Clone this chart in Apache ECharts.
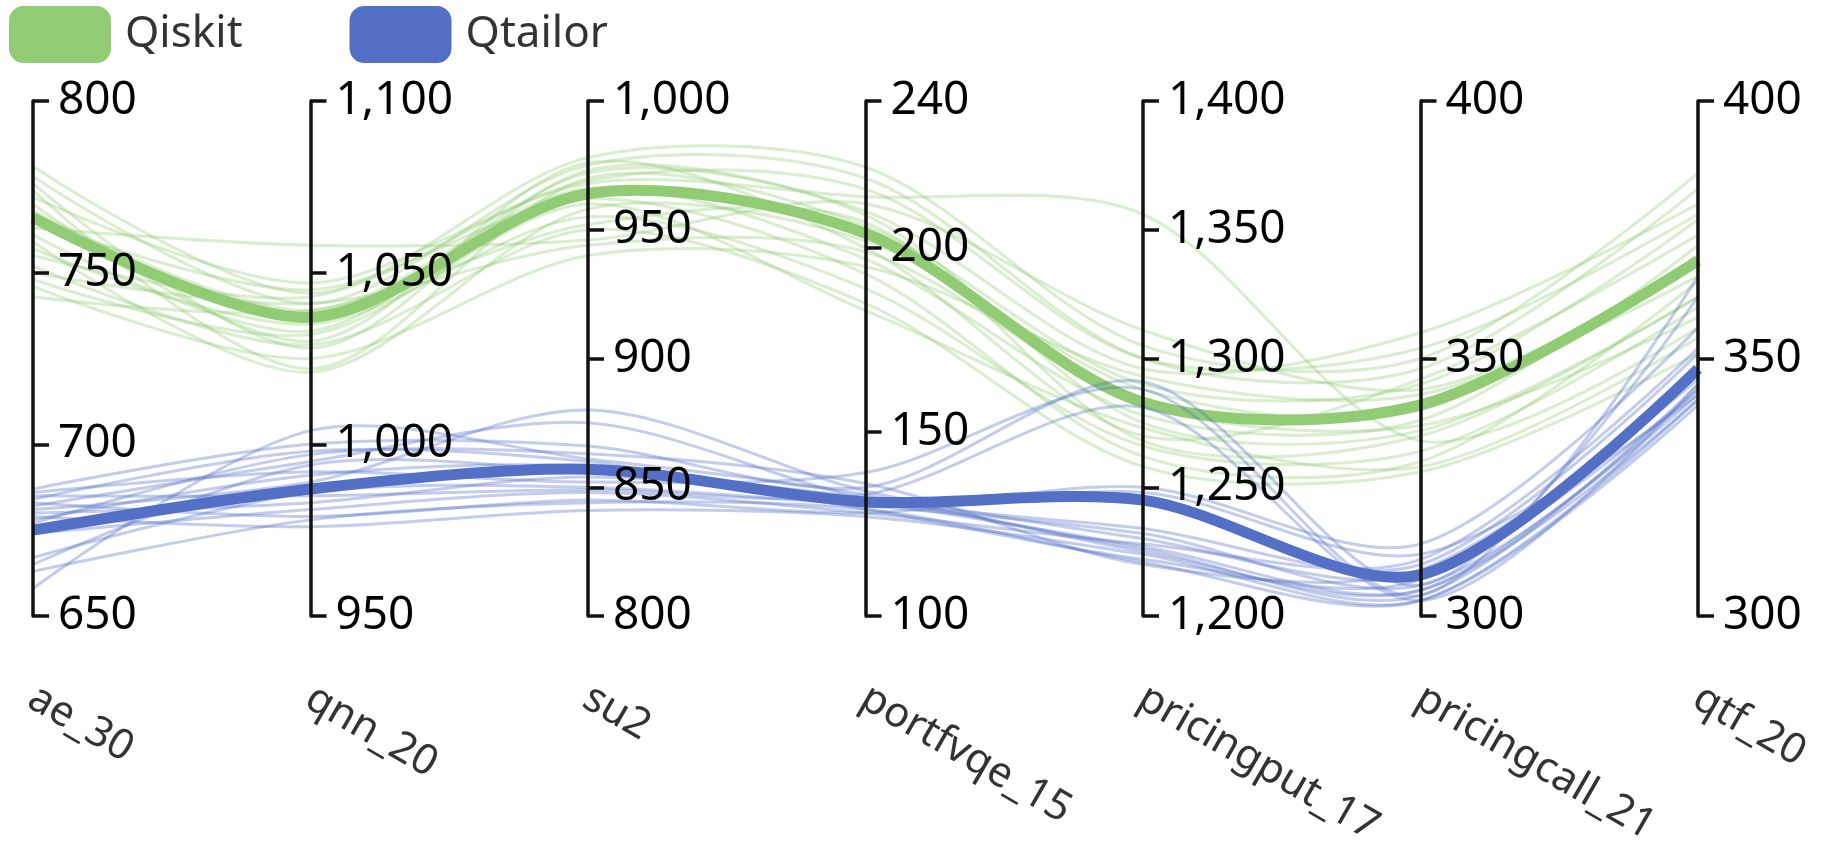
<!DOCTYPE html>
<html>
<head>
<meta charset="utf-8">
<script src="https://cdn.jsdelivr.net/npm/echarts@6/dist/echarts.min.js"></script>
<style>
html, body { margin: 0; padding: 0; background: #fff; }
#main { width: 1834px; height: 846px; }
</style>
</head>
<body>
<div id="main"></div>
<script>
// axes of the parallel chart
var dims = ['ae_30', 'qnn_20', 'su2', 'portfvqe_15', 'pricingput_17', 'pricingcall_21', 'qtf_20'];
var axisMin = [650, 950, 800, 100, 1200, 300, 300];
var axisMax = [800, 1100, 1000, 240, 1400, 400, 400];

// Qiskit runs (thin) and their mean (thick)
var qiskitRuns = [
    [781, 1044, 978, 222, 1305, 350, 386],
    [778, 1041, 975, 219, 1300, 348, 383],
    [776, 1028, 973, 210, 1296, 355, 380],
    [774, 1022, 970, 206, 1290, 345, 377],
    [772, 1047, 968, 214, 1356, 334, 356],
    [770, 1030, 976, 200, 1270, 346, 374],
    [768, 1039, 966, 197, 1278, 338, 372],
    [765, 1045, 962, 193, 1262, 330, 365],
    [763, 1058, 946, 212, 1311, 344, 368],
    [761, 1033, 972, 209, 1275, 336, 362],
    [759, 1021, 958, 202, 1288, 340, 370],
    [757, 1035, 955, 189, 1266, 332, 360],
    [755, 1043, 969, 216, 1300, 352, 378],
    [752, 1029, 950, 185, 1258, 328, 351],
    [750, 1041, 944, 199, 1282, 337, 358],
    [748, 1032, 960, 183, 1273, 329, 354],
    [746, 1025, 940, 195, 1293, 343, 366],
    [743, 1039, 952, 207, 1268, 335, 362]
];
var qiskitMean = [766, 1037, 964, 204, 1283, 341, 369];

// Qtailor runs (thin) and their mean (thick)
var qtailorRuns = [
    [687, 1000, 866, 135, 1291, 306, 362],
    [686, 992, 852, 139, 1288, 304, 366],
    [685, 985, 849, 133, 1281, 303, 345],
    [684, 998, 860, 130, 1250, 314, 356],
    [683, 979, 845, 128, 1248, 312, 343],
    [682, 995, 875, 132, 1234, 310, 351],
    [681, 989, 880, 134, 1230, 308, 344],
    [680, 983, 854, 131, 1227, 305, 342],
    [679, 976, 841, 127, 1224, 303, 341],
    [678, 991, 858, 129, 1222, 307, 347],
    [677, 997, 863, 136, 1220, 309, 346],
    [674, 981, 848, 128, 1228, 311, 352],
    [667, 986, 850, 130, 1232, 306, 343],
    [665, 994, 856, 132, 1226, 304, 345],
    [663, 978, 844, 129, 1221, 303, 342],
    [658, 1004, 861, 133, 1225, 305, 344]
];
var qtailorMean = [675, 987, 857, 131, 1245, 308, 348];

var font = 'Noto Sans';

function buildData(runs, mean) {
    var out = [];
    for (var i = 0; i < runs.length; i++) {
        out.push({ value: runs[i] });
    }
    // mean goes last so it sits on top
    out.push({ value: mean, lineStyle: { width: 11, opacity: 1 } });
    return out;
}

var parallelAxis = [];
for (var i = 0; i < dims.length; i++) {
    parallelAxis.push({
        dim: i,
        name: dims[i],
        min: axisMin[i],
        max: axisMax[i],
        interval: 50
    });
}

var myChart = echarts.init(document.getElementById('main'));
var option = {
    animation: false,
    color: ['#91cc75', '#5470c6'],
    legend: {
        left: 4,
        top: 1,
        itemWidth: 100,
        itemHeight: 55,
        itemGap: 107,
        icon: 'roundRect',
        textStyle: { fontSize: 44, color: '#333', fontFamily: font, padding: [0, 0, 0, 10] },
        data: ['Qiskit', 'Qtailor']
    },
    parallel: {
        left: 33,
        right: 136,
        top: 101,
        bottom: 230,
        parallelAxisDefault: {
            type: 'value',
            nameLocation: 'start',
            nameGap: 56,
            nameRotate: -30,
            nameTextStyle: {
                fontSize: 42,
                color: '#333',
                fontFamily: font,
                align: 'left',
                verticalAlign: 'top',
                padding: [0, 0, 0, 10]
            },
            axisLine: { lineStyle: { color: '#111', width: 3.5 } },
            axisTick: { length: 16, lineStyle: { color: '#111', width: 3.5 } },
            axisLabel: { fontSize: 46, color: '#000', fontFamily: font, margin: 25 },
            splitLine: { show: false }
        }
    },
    parallelAxis: parallelAxis,
    series: [
        {
            name: 'Qiskit',
            type: 'parallel',
            smooth: true,
            lineStyle: { width: 3, opacity: 0.35 },
            data: buildData(qiskitRuns, qiskitMean)
        },
        {
            name: 'Qtailor',
            type: 'parallel',
            smooth: true,
            lineStyle: { width: 3, opacity: 0.35 },
            data: buildData(qtailorRuns, qtailorMean)
        }
    ]
};
myChart.setOption(option);
</script>
</body>
</html>
